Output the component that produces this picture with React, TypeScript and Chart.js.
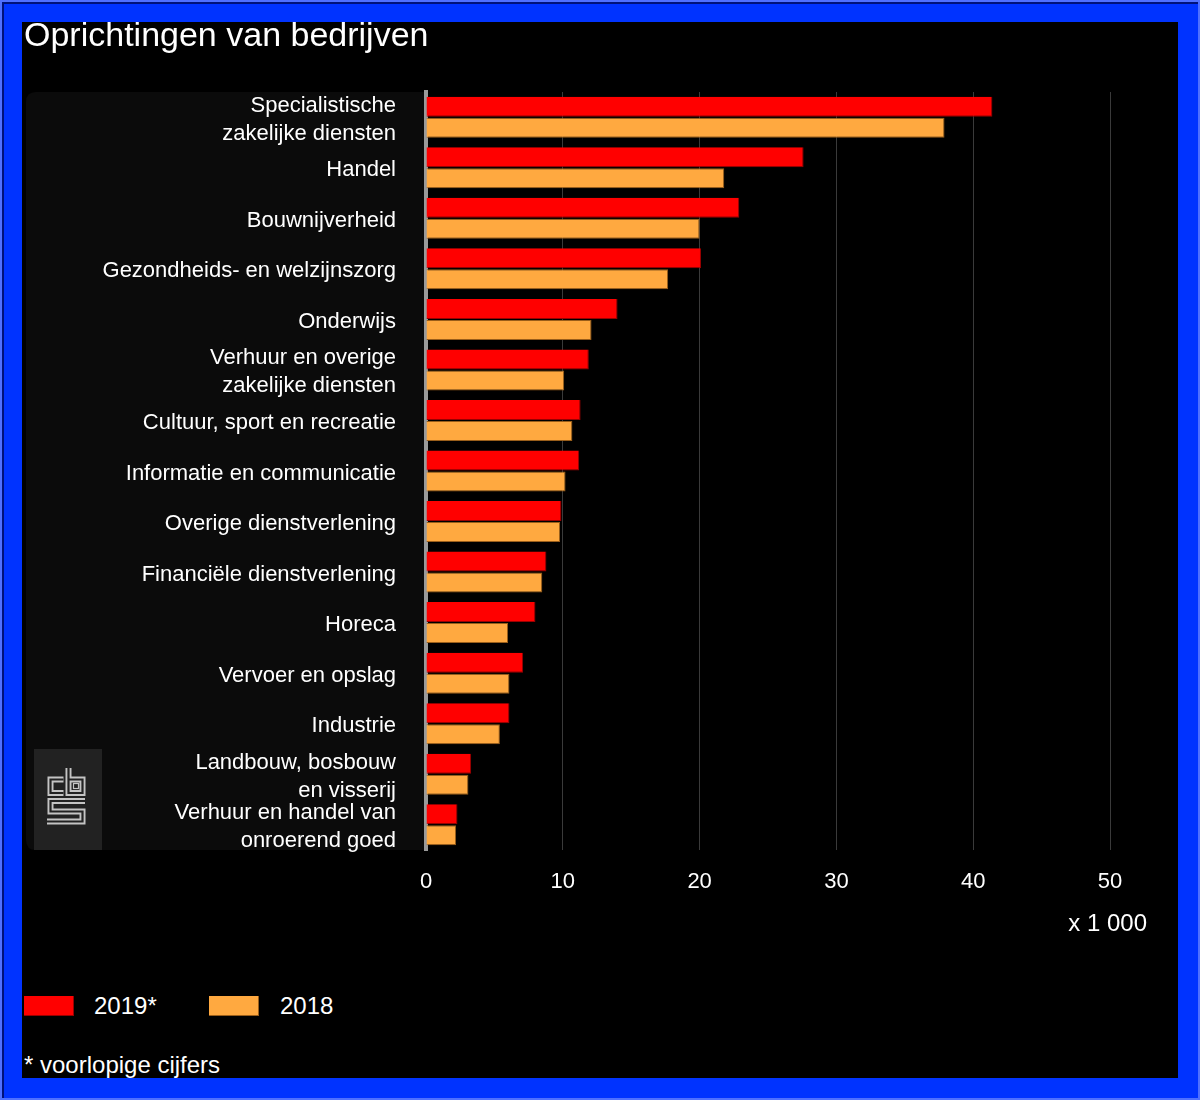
import React, { useEffect, useRef } from "react";
import { Chart, registerables } from "chart.js";

Chart.register(...registerables);

const categories: (string | string[])[] = [
  ["Specialistische", "zakelijke diensten"],
  "Handel",
  "Bouwnijverheid",
  "Gezondheids- en welzijnszorg",
  "Onderwijs",
  ["Verhuur en overige", "zakelijke diensten"],
  "Cultuur, sport en recreatie",
  "Informatie en communicatie",
  "Overige dienstverlening",
  "Financiële dienstverlening",
  "Horeca",
  "Vervoer en opslag",
  "Industrie",
  ["Landbouw, bosbouw", "en visserij"],
  ["Verhuur en handel van", "onroerend goed"],
];

const values2019 = [41.4, 27.6, 22.9, 20.1, 14.0, 11.9, 11.3, 11.2, 9.9, 8.8, 8.0, 7.1, 6.1, 3.3, 2.3];
const values2018 = [37.9, 21.8, 20.0, 17.7, 12.1, 10.1, 10.7, 10.2, 9.8, 8.5, 6.0, 6.1, 5.4, 3.1, 2.2];

const seriesLabels = ["2019*", "2018"];
const xTickValues = [0, 10, 20, 30, 40, 50];
const xUnitLabel = "x 1 000";
const titleText = "Oprichtingen van bedrijven";
const footnoteText = "* voorlopige cijfers";

const FONT = 'Arial, "Liberation Sans", sans-serif';
const RED = "#ff0000";
const RED_BORDER = "#9a0000";
const ORANGE = "#ffa940";
const ORANGE_BORDER = "#9a5e1a";

const backgroundPlugin = {
  id: "labelBackground",
  beforeDraw(chart: any) {
    const { ctx, chartArea } = chart;
    ctx.save();
    const x0 = 4, x1 = chartArea.left - 2, y0 = chartArea.top, y1 = chartArea.bottom;
    const r = 10;
    ctx.fillStyle = "#0b0b0b";
    ctx.beginPath();
    ctx.moveTo(x0 + r, y0);
    ctx.lineTo(x1, y0);
    ctx.lineTo(x1, y1);
    ctx.lineTo(x0 + r, y1);
    ctx.quadraticCurveTo(x0, y1, x0, y1 - r);
    ctx.lineTo(x0, y0 + r);
    ctx.quadraticCurveTo(x0, y0, x0 + r, y0);
    ctx.closePath();
    ctx.fill();
    const ox = -22, oy = -22;
    ctx.fillStyle = "#222222";
    ctx.fillRect(34 + ox, 749 + oy, 68, y1 - (749 + oy));
    const drawDouble = (pts: number[][]) => {
      ctx.lineJoin = "miter";
      ctx.lineCap = "butt";
      for (const [w, c] of [[6, "#c4c4c4"], [2.2, "#222222"]] as [number, string][]) {
        ctx.lineWidth = w;
        ctx.strokeStyle = c;
        ctx.beginPath();
        pts.forEach((p, i) => {
          const px = p[0] + ox, py = p[1] + oy;
          if (i === 0) ctx.moveTo(px, py);
          else ctx.lineTo(px, py);
        });
        ctx.stroke();
      }
    };
    drawDouble([[63.5, 779.5], [50.5, 779.5], [50.5, 793], [63.5, 793]]);
    drawDouble([[68.5, 768], [68.5, 793], [82.5, 793], [82.5, 779.5], [68.5, 779.5]]);
    ctx.lineWidth = 1.2;
    ctx.strokeStyle = "#c4c4c4";
    ctx.strokeRect(73.5 + ox, 783.5 + oy, 5, 5);
    drawDouble([[85, 801], [50.5, 801], [50.5, 811.5], [82.5, 811.5], [82.5, 821.5], [47, 821.5]]);
    ctx.restore();
  },
};

function ChartCanvas() {
  const ref = useRef<HTMLCanvasElement | null>(null);
  useEffect(() => {
    if (!ref.current) return;
    const chart = new Chart(ref.current, {
      type: "bar",
      data: {
        labels: categories,
        datasets: [
          {
            label: seriesLabels[0],
            data: values2019,
            backgroundColor: RED,
            borderColor: RED_BORDER,
            borderWidth: { top: 0, left: 0, right: 1, bottom: 1 },
            borderSkipped: false,
            categoryPercentage: 0.831,
            barPercentage: 0.952,
          },
          {
            label: seriesLabels[1],
            data: values2018,
            backgroundColor: ORANGE,
            borderColor: ORANGE_BORDER,
            borderWidth: { top: 1, left: 0, right: 1, bottom: 1 },
            borderSkipped: false,
            categoryPercentage: 0.831,
            barPercentage: 0.952,
          },
        ],
      },
      options: {
        indexAxis: "y",
        animation: false,
        responsive: false,
        devicePixelRatio: 1,
        layout: { padding: { top: 70, right: 31, bottom: 0, left: 0 } },
        plugins: {
          legend: { display: false },
          tooltip: { enabled: false },
          title: { display: false },
        },
        scales: {
          x: {
            type: "linear",
            min: 0,
            max: 52.7,
            afterBuildTicks: (scale: any) => {
              scale.ticks = xTickValues.map((v) => ({ value: v }));
            },
            afterFit: (scale: any) => {
              scale.height = 89;
            },
            ticks: {
              color: "#ffffff",
              font: { family: FONT, size: 22 },
              padding: 19,
              maxRotation: 0,
            },
            grid: {
              drawTicks: false,
              color: (ctx: any) => (ctx.tick && ctx.tick.value === 0 ? "rgba(0,0,0,0)" : "#3a3a3a"),
              lineWidth: 1,
            },
            border: { display: false },
            title: {
              display: true,
              text: xUnitLabel,
              align: "end",
              color: "#ffffff",
              font: { family: FONT, size: 24 },
              padding: { top: 0, bottom: 0 },
            },
          },
          y: {
            type: "category",
            z: 1,
            afterFit: (scale: any) => {
              scale.width = 404;
            },
            ticks: {
              color: "#ffffff",
              font: { family: FONT, size: 22, lineHeight: 28 / 22 },
              padding: 30,
              labelOffset: 2.5,
              autoSkip: false,
            },
            grid: { display: false, drawTicks: false },
            border: { display: true, color: "#9a9a9a", width: 4 },
          },
        },
      },
      plugins: [backgroundPlugin],
    } as any);
    return () => chart.destroy();
  }, []);
  return (
    <canvas
      ref={ref}
      width={1156}
      height={917}
      style={{ position: "absolute", left: 0, top: 0, width: 1156, height: 917 }}
    />
  );
}

export default function App() {
  const textBase: React.CSSProperties = {
    position: "absolute",
    color: "#ffffff",
    fontFamily: FONT,
    whiteSpace: "nowrap",
    margin: 0,
  };
  return (
    <div
      style={{
        position: "absolute",
        left: 0,
        top: 0,
        width: 1200,
        height: 1100,
        boxSizing: "border-box",
        background: "#0033ff",
        border: "2px solid #4f70ff",
        boxShadow: "inset 2px 2px 0 #00127a",
      }}
    >
      <div
        style={{
          position: "absolute",
          left: 20,
          top: 20,
          width: 1156,
          height: 1056,
          background: "#000000",
          overflow: "hidden",
        }}
      >
        <ChartCanvas />
        <div style={{ ...textBase, left: 2, top: -5, fontSize: 34, lineHeight: "34px" }}>{titleText}</div>
        <div style={{ position: "absolute", left: 2, top: 974, width: 50, height: 20, background: RED, boxShadow: "inset -1px -1px 0 " + RED_BORDER }} />
        <div style={{ ...textBase, left: 72, top: 971.7, fontSize: 24, lineHeight: "24px" }}>{seriesLabels[0]}</div>
        <div style={{ position: "absolute", left: 187, top: 974, width: 50, height: 20, background: ORANGE, boxShadow: "inset -1px -1px 0 " + ORANGE_BORDER }} />
        <div style={{ ...textBase, left: 258, top: 971.7, fontSize: 24, lineHeight: "24px" }}>{seriesLabels[1]}</div>
        <div style={{ ...textBase, left: 2, top: 1030.7, fontSize: 24, lineHeight: "24px" }}>{footnoteText}</div>
      </div>
    </div>
  );
}
